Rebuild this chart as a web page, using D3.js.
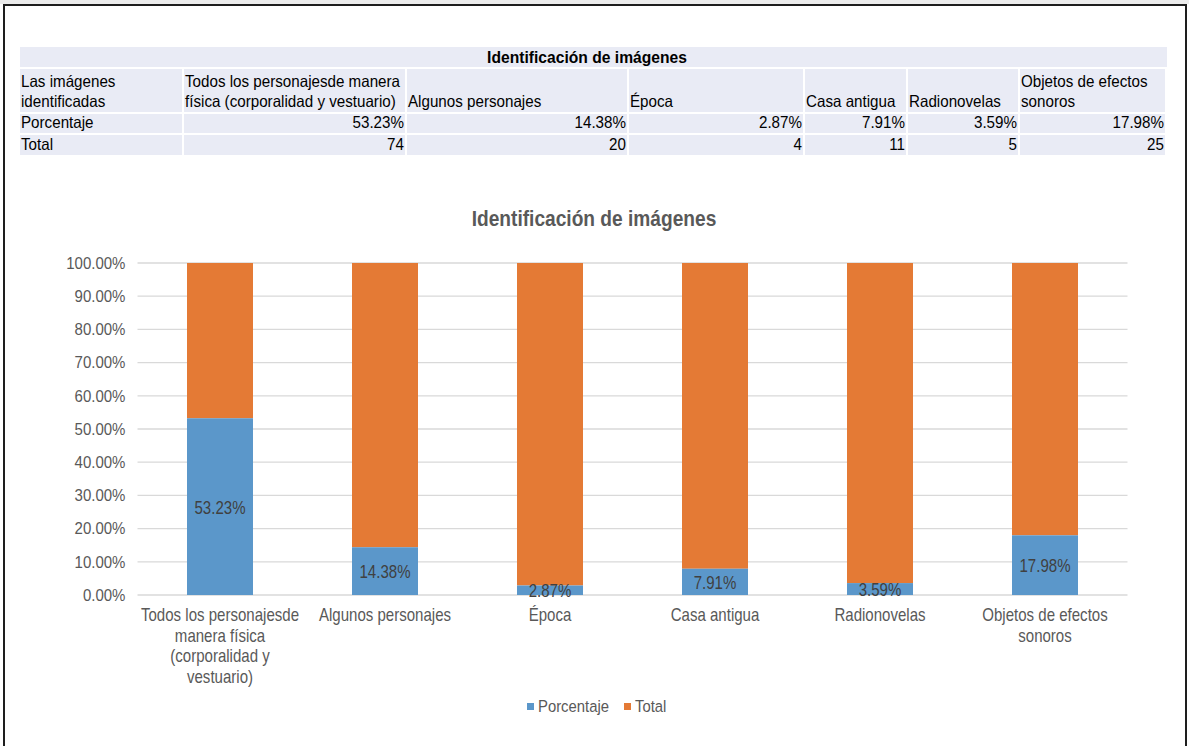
<!DOCTYPE html>
<html>
<head>
<meta charset="utf-8">
<script src="https://cdn.jsdelivr.net/npm/d3@7"></script>
<style>
  html, body { margin: 0; padding: 0; background: #fff; }
  svg { display: block; }
  text { font-family: "Liberation Sans", Arial, sans-serif; }
</style>
</head>
<body>
<svg id="chart" width="1189" height="746"></svg>
<script>
// ---- data ----
const title = "Identificación de imágenes";
const rowHeader = ["Las imágenes", "identificadas"];
const tableHeaders = [
  ["Todos los personajesde manera", "física (corporalidad y vestuario)"],
  ["Algunos personajes"],
  ["Época"],
  ["Casa antigua"],
  ["Radionovelas"],
  ["Objetos de efectos", "sonoros"]
];
const axisLabels = [
  ["Todos los personajesde", "manera física", "(corporalidad y", "vestuario)"],
  ["Algunos personajes"],
  ["Época"],
  ["Casa antigua"],
  ["Radionovelas"],
  ["Objetos de efectos", "sonoros"]
];
const porcentaje = [0.5323, 0.1438, 0.0287, 0.0791, 0.0359, 0.1798];
const total = [74, 20, 4, 11, 5, 25];
const seriesNames = ["Porcentaje", "Total"];
const yTicks = [0, 0.1, 0.2, 0.3, 0.4, 0.5, 0.6, 0.7, 0.8, 0.9, 1.0];

const BLUE = "#5B97CA", ORANGE = "#E47A35";
const fmtPct = d3.format(".2%");

const svg = d3.select("#chart");

// Narrow text: a regular face squeezed horizontally around its anchor point.
function narrowText(parent, x, y, lines, o) {
  lines = Array.isArray(lines) ? lines : [lines];
  const t = parent.append("text")
    .attr("transform", `translate(${x},${y}) scale(${o.sx || 0.91},1)`)
    .attr("text-anchor", o.anchor || "start")
    .attr("font-size", o.size || 16.5)
    .attr("font-weight", o.weight || "normal")
    .attr("fill", o.fill || "#000");
  lines.forEach((ln, k) => {
    t.append("tspan").attr("x", 0).attr("y", k * (o.lh || 0)).text(ln);
  });
  return t;
}

// ---- page frame ----
svg.append("rect").attr("x", 0).attr("y", 0).attr("width", 1189).attr("height", 4).attr("fill", "#ececec");
svg.append("path")
  .attr("d", "M4,746 V5 H1186 V746")
  .attr("fill", "none").attr("stroke", "#1e1e1e").attr("stroke-width", 2);

// ---- data table ----
const colEdges = [20, 184, 407, 629, 805, 908, 1020, 1167];
const rowEdges = { title: [47, 67], head: [69, 112], pct: [114, 133], tot: [135, 155] };
const CELL = "#E9EBF5";
const tbl = svg.append("g").attr("class", "table");

tbl.append("rect")
  .attr("x", colEdges[0]).attr("y", rowEdges.title[0])
  .attr("width", colEdges[7] - colEdges[0]).attr("height", rowEdges.title[1] - rowEdges.title[0])
  .attr("fill", CELL);
narrowText(tbl, 587, 63, title, { anchor: "middle", size: 17, weight: "bold", sx: 0.92 });

const bodyRows = [
  { key: "head", cells: [rowHeader].concat(tableHeaders), numeric: false },
  { key: "pct", cells: [["Porcentaje"]].concat(porcentaje.map(v => [fmtPct(v)])), numeric: true },
  { key: "tot", cells: [["Total"]].concat(total.map(v => [String(v)])), numeric: true }
];

const LH = 20.5;
bodyRows.forEach(row => {
  const [y0, y1] = rowEdges[row.key];
  row.cells.forEach((lines, i) => {
    const x0 = colEdges[i], x1 = colEdges[i + 1] - 2;
    tbl.append("rect").attr("x", x0).attr("y", y0).attr("width", x1 - x0).attr("height", y1 - y0).attr("fill", CELL);
    const right = row.numeric && i > 0;
    const baseY = y1 - 5 - (lines.length - 1) * LH;
    narrowText(tbl, right ? x1 - 1 : x0 + 1, baseY, lines,
      { anchor: right ? "end" : "start", size: 16.5, sx: 0.92, lh: LH });
  });
});

// ---- chart ----
const x = d3.scaleBand()
  .domain(d3.range(porcentaje.length))
  .range([137.5, 1127.5])
  .paddingInner(0.6).paddingOuter(0.3);
const y = d3.scaleLinear().domain([0, 1]).range([595, 263]);

narrowText(svg, 594, 225.5, title, { anchor: "middle", size: 22.8, weight: "bold", sx: 0.84, fill: "#595959" });

// gridlines
svg.append("g").selectAll("line").data(yTicks).join("line")
  .attr("x1", 137.5).attr("x2", 1127.5)
  .attr("y1", d => y(d)).attr("y2", d => y(d))
  .attr("stroke", "#d9d9d9").attr("stroke-width", 1.3);

// y axis labels
const yAxis = svg.append("g")
  .attr("transform", "translate(130,0)")
  .call(d3.axisLeft(y).tickValues(yTicks).tickFormat(fmtPct).tickSize(0).tickPadding(5));
yAxis.select(".domain").remove();
yAxis.selectAll("text")
  .attr("font-family", "'Liberation Sans', Arial, sans-serif")
  .attr("font-size", 16.5).attr("fill", "#595959")
  .attr("transform", "scale(0.91,1)");

// stacked bars: Porcentaje at the base, Total filling the rest of 100%
const bars = svg.append("g");
bars.selectAll("rect.total").data(porcentaje).join("rect")
  .attr("class", "total")
  .attr("x", (d, i) => x(i)).attr("width", x.bandwidth())
  .attr("y", y(1)).attr("height", d => y(d) - y(1))
  .attr("fill", ORANGE);
bars.selectAll("rect.pct").data(porcentaje).join("rect")
  .attr("class", "pct")
  .attr("x", (d, i) => x(i)).attr("width", x.bandwidth())
  .attr("y", d => y(d)).attr("height", d => y(0) - y(d))
  .attr("fill", BLUE);

// value labels centred in the blue segments
const vl = svg.append("g");
porcentaje.forEach((d, i) => {
  narrowText(vl, x(i) + x.bandwidth() / 2, (y(0) + y(d)) / 2 + 7, fmtPct(d),
    { anchor: "middle", size: 17.5, sx: 0.86, fill: "#404040" });
});

// category labels
const xl = svg.append("g");
axisLabels.forEach((lines, i) => {
  narrowText(xl, x(i) + x.bandwidth() / 2, 621, lines,
    { anchor: "middle", size: 17.5, sx: 0.86, fill: "#595959", lh: 20.7 });
});

// legend
const legend = svg.append("g");
const legendItems = [
  { name: seriesNames[0], color: BLUE, x: 527 },
  { name: seriesNames[1], color: ORANGE, x: 624 }
];
legendItems.forEach(it => {
  legend.append("rect").attr("x", it.x).attr("y", 703).attr("width", 7).attr("height", 7).attr("fill", it.color);
  narrowText(legend, it.x + 11, 712, it.name, { size: 16.5, sx: 0.9, fill: "#595959" });
});
</script>
</body>
</html>
